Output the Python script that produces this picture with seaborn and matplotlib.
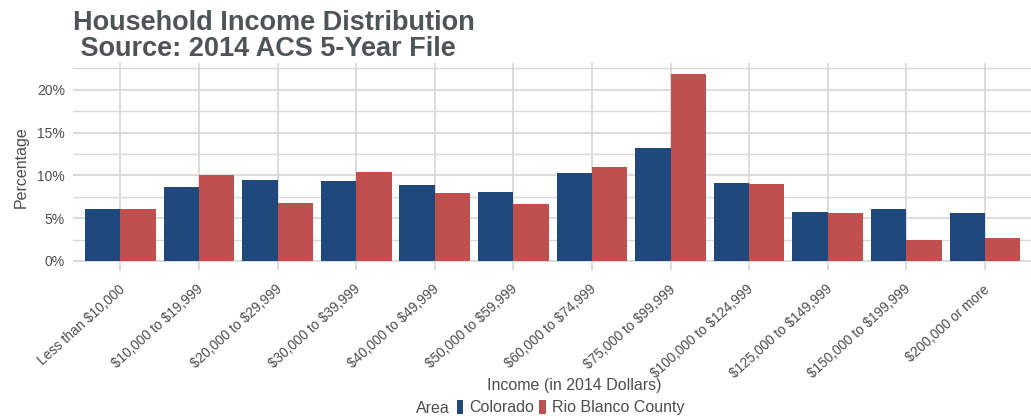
import numpy as np
import pandas as pd
import matplotlib
matplotlib.use('Agg')
import matplotlib.pyplot as plt
import matplotlib.transforms as mtransforms
import seaborn as sns
from matplotlib.patches import Patch
from matplotlib.ticker import PercentFormatter, MultipleLocator

income_bins = ['Less than $10,000', '$10,000 to $19,999', '$20,000 to $29,999',
               '$30,000 to $39,999', '$40,000 to $49,999', '$50,000 to $59,999',
               '$60,000 to $74,999', '$75,000 to $99,999', '$100,000 to $124,999',
               '$125,000 to $149,999', '$150,000 to $199,999', '$200,000 or more']
colorado = [6.1, 8.7, 9.5, 9.35, 8.9, 8.05, 10.3, 13.2, 9.1, 5.75, 6.05, 5.6]
rio_blanco = [6.1, 10.05, 6.75, 10.4, 7.95, 6.7, 10.95, 21.9, 9.0, 5.6, 2.45, 2.7]
areas = ['Colorado', 'Rio Blanco County']
area_colors = ['#1f497d', '#c0504d']

df = pd.DataFrame({
    'Income': income_bins * 2,
    'Percentage': colorado + rio_blanco,
    'Area': [areas[0]] * len(income_bins) + [areas[1]] * len(income_bins),
})

sns.set_style('white')
plt.rcParams['font.family'] = ['Liberation Sans', 'DejaVu Sans']
plt.rcParams['text.parse_math'] = False
txt_col = '#4d4d4d'

fig = plt.figure(figsize=(10.31, 4.16), dpi=100)
ax = fig.add_axes([0.071, 0.35, 0.93, 0.498])

sns.barplot(data=df, x='Income', y='Percentage', hue='Area', order=income_bins,
            hue_order=areas, palette=area_colors, width=0.9, gap=0,
            saturation=1, edgecolor='none', legend=False, ax=ax)

ax.set_xlim(-0.6, len(income_bins) - 0.4)
ax.set_ylim(-1.1, 23.1)
ax.yaxis.set_major_locator(MultipleLocator(5))
ax.yaxis.set_minor_locator(MultipleLocator(2.5))
ax.yaxis.set_major_formatter(PercentFormatter(decimals=0))
ax.set_axisbelow(True)
ax.grid(True, which='major', color='#d9d9d9', linewidth=1.3)
ax.grid(True, which='minor', axis='y', color='#d9d9d9', linewidth=1.0)
for s in ax.spines.values():
    s.set_visible(False)

ax.tick_params(axis='y', which='both', length=0, labelsize=10, labelcolor=txt_col, pad=6)
ax.tick_params(axis='x', length=4, color='#d9d9d9', width=1.3, labelsize=9.8,
               labelcolor=txt_col, pad=12)
# shift rotated labels a bit to the right so they end just past the tick
shift = mtransforms.ScaledTranslation(0.07, 0, fig.dpi_scale_trans)
for lab in ax.get_xticklabels():
    lab.set_rotation(42)
    lab.set_ha('right')
    lab.set_va('bottom')
    lab.set_rotation_mode('anchor')
    lab.set_transform(lab.get_transform() + shift)

ax.set_xlabel('Income (in 2014 Dollars)', fontsize=11.5, color=txt_col)
ax.set_ylabel('Percentage', fontsize=11.5, color=txt_col, labelpad=6)
ax.xaxis.set_label_coords(0.523, -0.52)

fig.text(0.071, 0.975, 'Household Income Distribution\n Source: 2014 ACS 5-Year File',
         fontsize=19.5, fontweight='bold', color='#4f5557', va='top', ha='left',
         linespacing=1.0)

handles = [Patch(facecolor=c, edgecolor='none') for c in area_colors]
fig.text(0.403, 0.018, 'Area', fontsize=11.5, color=txt_col, va='center', ha='left')
fig.legend(handles, areas, loc='center left', bbox_to_anchor=(0.443, 0.02), ncol=2,
           frameon=False, fontsize=11.5, handlelength=0.4, handleheight=1.0,
           handletextpad=0.4, columnspacing=0.3, borderaxespad=0, borderpad=0,
           labelcolor=txt_col)

fig.savefig('out.png', dpi=100)
